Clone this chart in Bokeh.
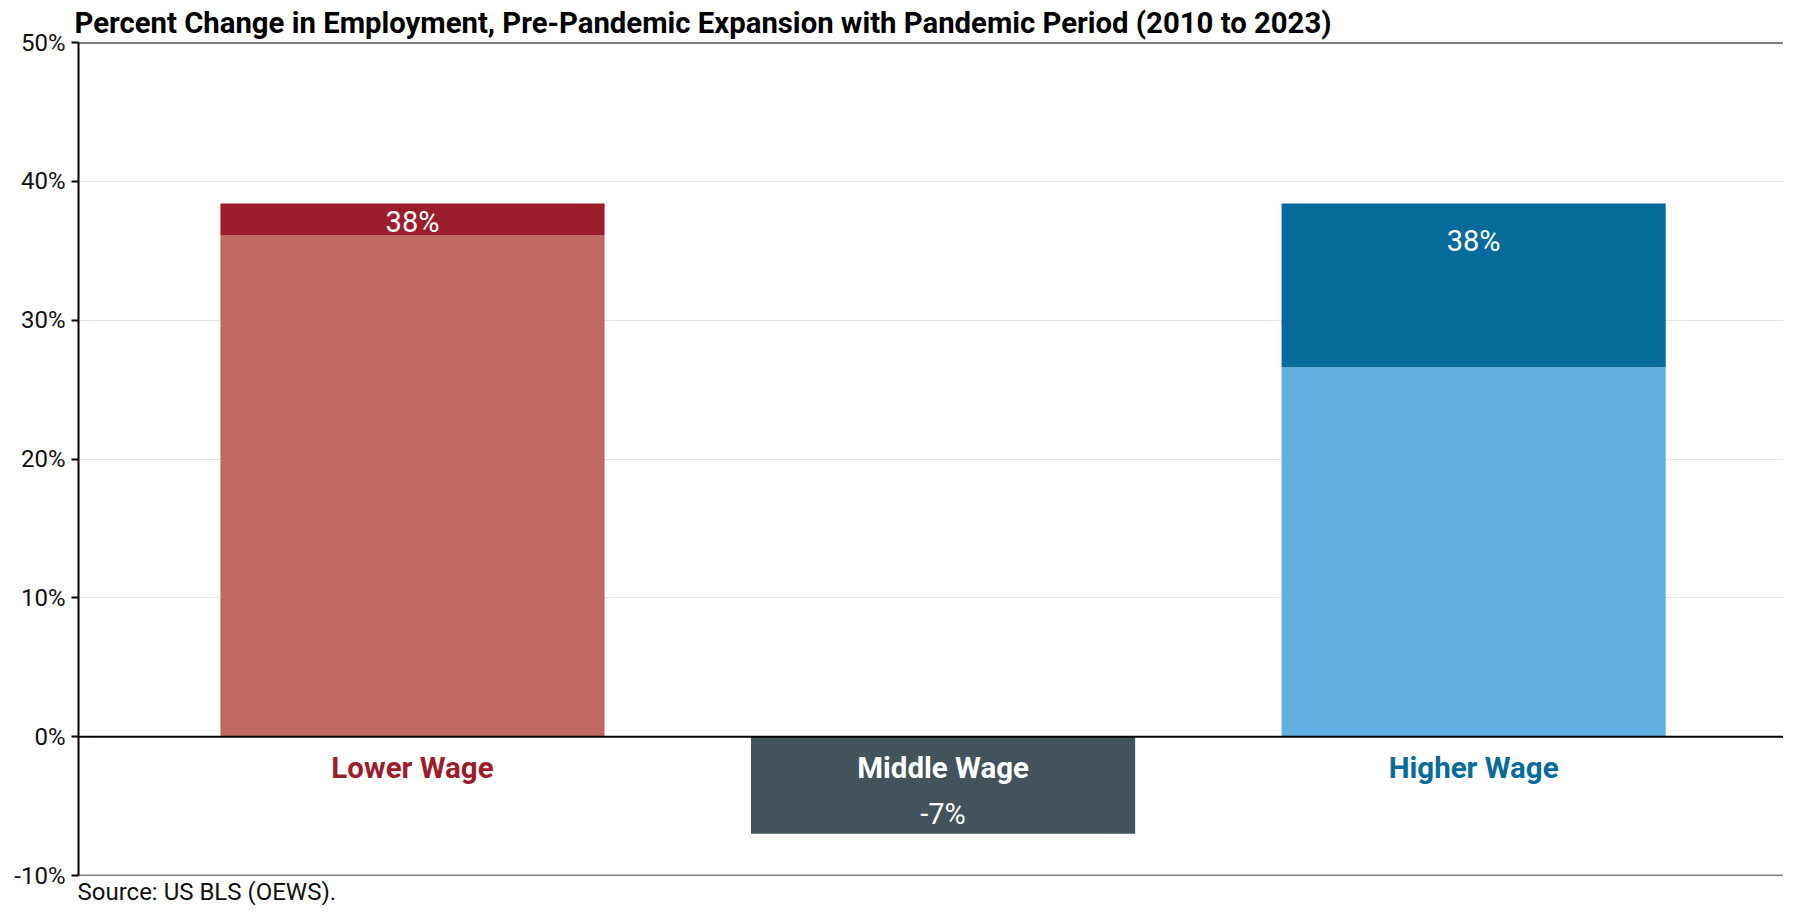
from bokeh.plotting import figure
from bokeh.models import Range1d, FixedTicker, PrintfTickFormatter, Span, Title
from bokeh.core.properties import value
from bokeh.embed import file_html
from bokeh.resources import INLINE

# ---- data ----
categories = ["Lower Wage", "Middle Wage", "Higher Wage"]
pre_pandemic = [36.1, -7.0, 26.6]      # Pre-pandemic expansion (percent)
pandemic = [2.3, 0.0, 11.8]            # Pandemic period (percent)
totals = [38, -7, 38]                  # labelled totals
y_ticks = [-10, 0, 10, 20, 30, 40, 50]

# ---- styles ----
pre_colors = ["#BF6960", "#44525B", "#61AEE0"]
pan_colors = ["#9B1D2C", "#44525B", "#066B9B"]
cat_colors = ["#9B1D2C", "#FFFFFF", "#066B9B"]
label_offsets = [-1.32, 1.4, -2.72]    # value label offset from bar end
FONT = "Roboto"

xs = list(range(len(categories)))
tops = [a + b for a, b in zip(pre_pandemic, pandemic)]

p = figure(width=1783, height=905, output_backend="svg", toolbar_location=None,
           x_range=Range1d(-0.6295, 2.584), y_range=Range1d(-10, 50),
           min_border_left=78, min_border_right=0, min_border_top=42, min_border_bottom=28)

p.vbar(x=xs, bottom=0, top=pre_pandemic, width=0.724, fill_color=pre_colors, line_color=None)
p.vbar(x=xs, bottom=pre_pandemic, top=tops, width=0.724, fill_color=pan_colors, line_color=None)

# value labels
vl_y = [t + o for t, o in zip(tops, label_offsets)]
p.text(x=xs, y=vl_y, text=[f"{v}%" for v in totals], text_align="center", text_baseline="middle",
       text_font=value(FONT), text_font_size="29px", text_color="white")

# category labels
p.text(x=xs, y=[-2.23] * len(xs), text=categories, text_align="center", text_baseline="middle",
       text_font=value(FONT), text_font_size="29.5px", text_font_style="bold", text_color=cat_colors)

# grid / axes
p.xgrid.visible = False
p.ygrid.ticker = FixedTicker(ticks=y_ticks)
p.ygrid.grid_line_color = "#E5E5E5"
p.ygrid.grid_line_width = 1
p.xaxis.visible = False
p.outline_line_color = None

p.yaxis.ticker = FixedTicker(ticks=y_ticks)
p.yaxis.formatter = PrintfTickFormatter(format="%d%%")
p.yaxis.axis_line_color = "black"
p.yaxis.axis_line_width = 2
p.yaxis.major_tick_line_color = "black"
p.yaxis.major_tick_line_width = 2
p.yaxis.major_tick_out = 7
p.yaxis.major_tick_in = 0
p.yaxis.minor_tick_line_color = None
p.yaxis.major_label_text_font = FONT
p.yaxis.major_label_text_font_size = "24px"
p.yaxis.major_label_text_color = "#111111"
p.yaxis.major_label_standoff = 6

for yv, w in [(50, 2), (-10, 1.5), (0, 2)]:
    p.add_layout(Span(location=yv, dimension="width", line_color="black", line_width=w))

p.title.text = "Percent Change in Employment, Pre-Pandemic Expansion with Pandemic Period (2010 to 2023)"
p.title.text_font = FONT
p.title.text_font_size = "29.3px"
p.title.text_font_style = "bold"
p.title.text_color = "black"
p.title.align = "left"
p.title.offset = -4
p.title.standoff = 6

p.add_layout(Title(text="Source: US BLS (OEWS).", text_font=FONT, text_font_size="24px",
                   text_font_style="normal", text_color="#111111", align="left", offset=-1,
                   standoff=0), "below")

open("out.html", "w").write(file_html(p, INLINE))
